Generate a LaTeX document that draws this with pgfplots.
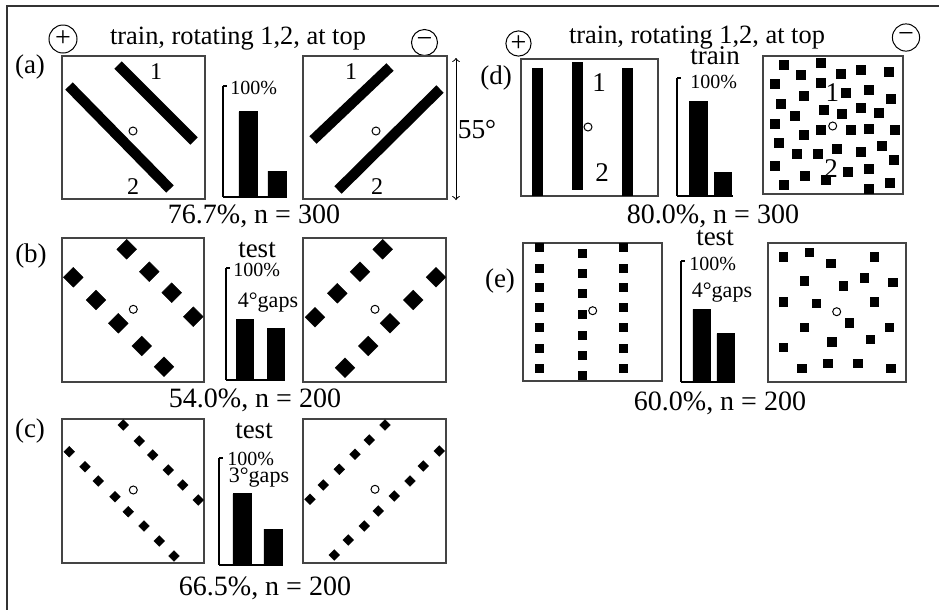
\documentclass[border=0pt]{standalone}
\usepackage{fontspec}
\setmainfont{Liberation Serif}
\usepackage{pgfplots}
\pgfplotsset{compat=1.18}
\newcommand{\fs}[1]{\fontsize{#1}{#1}\selectfont}
\definecolor{frame}{HTML}{333333}
\definecolor{boxc}{HTML}{444444}
\pgfplotsset{
  barax/.style={scale only axis, anchor=south west, ybar, ymin=0, ymax=100,
    axis x line=bottom, axis y line=left, axis line style={-, line width=0.6pt, black},
    xtick=\empty, ytick={100}, yticklabels={}, tick align=inside,
    major tick length=2pt, tick style={line width=0.6pt, black},
    enlargelimits=false, clip=false},
  dia/.style={only marks, mark=square*, mark size=#1, mark options={rotate=45, fill=black, draw=black, line width=0.2pt}},
  sq/.style={only marks, mark=square*, mark size=#1, mark options={fill=black, draw=black, line width=0.2pt}},
  fix/.style={only marks, mark=o, mark size=2pt, mark options={line width=0.5pt, black}},
  bar/.style={mark=none, line width=#1, black},
}
\begin{document}
\begin{tikzpicture}
\useasboundingbox (0,0) rectangle (469.5pt,-305pt);
\begin{axis}[at={(0pt,0pt)}, anchor=north west, scale only axis, width=469.5pt, height=305pt,
  xmin=0, xmax=939, ymin=0, ymax=610, y dir=reverse, hide axis, clip=false]
% frame
\draw[frame, line width=0.8pt] (axis cs:7,610) -- (axis cs:7,6) -- (axis cs:939,6);
% titles and signs
\node[anchor=base] at (axis cs:238,44) {\fs{13.2}train, rotating 1,2, at top};
\node[anchor=base] at (axis cs:697,43) {\fs{13.2}train, rotating 1,2, at top};
\draw[line width=0.5pt] (axis cs:63,39) circle[radius=7pt];
\node at (axis cs:63,39) {\fs{14}+};
\draw[line width=0.5pt] (axis cs:424.5,42.5) circle[radius=6.5pt];
\node at (axis cs:424.5,42.5) {\fs{14}−};
\draw[line width=0.5pt] (axis cs:518.5,43.5) circle[radius=6.3pt];
\node at (axis cs:518.5,43.5) {\fs{14}+};
\draw[line width=0.5pt] (axis cs:906,37.5) circle[radius=6.8pt];
\node at (axis cs:906,37.5) {\fs{14}−};
% panel letters
\node[inner sep=0] at (axis cs:30,67) {\fs{13.5}(a)};
\node[inner sep=0] at (axis cs:31,256) {\fs{13.5}(b)};
\node[inner sep=0] at (axis cs:30,431) {\fs{13.5}(c)};
\node[inner sep=0] at (axis cs:496,78) {\fs{13.5}(d)};
\node[inner sep=0] at (axis cs:500,281) {\fs{13.5}(e)};
% summary labels
\node[anchor=base] at (axis cs:254,223) {\fs{14}76.7\%, n = 300};
\node[anchor=base] at (axis cs:255,407) {\fs{14}54.0\%, n = 200};
\node[anchor=base] at (axis cs:265,595) {\fs{14}66.5\%, n = 200};
\node[anchor=base] at (axis cs:713,223) {\fs{14}80.0\%, n = 300};
\node[anchor=base] at (axis cs:720,410) {\fs{14}60.0\%, n = 200};
% bar chart captions
\node[anchor=base] at (axis cs:257,257) {\fs{13.5}test};
\node[anchor=base] at (axis cs:254,438) {\fs{13.5}test};
\node[anchor=base] at (axis cs:715,64) {\fs{13.5}train};
\node[anchor=base] at (axis cs:715,245) {\fs{13.5}test};
\node[anchor=west, inner sep=0] at (axis cs:230,88) {\fs{10}100\%};
\node[anchor=west, inner sep=0] at (axis cs:233,270) {\fs{10}100\%};
\node[anchor=west, inner sep=0] at (axis cs:227,459) {\fs{10}100\%};
\node[anchor=west, inner sep=0] at (axis cs:690,82) {\fs{10}100\%};
\node[anchor=west, inner sep=0] at (axis cs:689,264) {\fs{10}100\%};
\node[anchor=base] at (axis cs:268,307) {\fs{11}4°gaps};
\node[anchor=base] at (axis cs:259,482) {\fs{11}3°gaps};
\node[anchor=base] at (axis cs:722,297) {\fs{11}4°gaps};
% 55 degree arrow
\draw[<->, line width=0.5pt] (axis cs:456,58) -- (axis cs:456,200);
\node at (axis cs:477,130) {\fs{13.7}55°};
% stimulus boxes
\draw[boxc, line width=0.6pt] (axis cs:62,56) rectangle (axis cs:205,199);
\draw[boxc, line width=0.6pt] (axis cs:303,56) rectangle (axis cs:447,199);
\draw[boxc, line width=0.6pt] (axis cs:62,238) rectangle (axis cs:204,382);
\draw[boxc, line width=0.6pt] (axis cs:303,238) rectangle (axis cs:446,382);
\draw[boxc, line width=0.6pt] (axis cs:62,419) rectangle (axis cs:204,563);
\draw[boxc, line width=0.6pt] (axis cs:303,419) rectangle (axis cs:446,563);
\draw[boxc, line width=0.6pt] (axis cs:521,59) rectangle (axis cs:658,196);
\draw[boxc, line width=0.6pt] (axis cs:763,56) rectangle (axis cs:903,194);
\draw[boxc, line width=0.6pt] (axis cs:523,243) rectangle (axis cs:662,381);
\draw[boxc, line width=0.6pt] (axis cs:768,243) rectangle (axis cs:906,382);
% (a) lines
\addplot[bar=5.2pt] coordinates {(118,65) (194,141)};
\addplot[bar=5.2pt] coordinates {(69,86) (170,189)};
\addplot[bar=5.2pt] coordinates {(313,140) (390,67)};
\addplot[bar=5.2pt] coordinates {(338,190) (440,89)};
\addplot[fix] coordinates {(133,131) (376,131)};
\node at (axis cs:156,72) {\fs{12}1};
\node at (axis cs:133,187) {\fs{12}2};
\node at (axis cs:351,72) {\fs{12}1};
\node at (axis cs:377,187) {\fs{12}2};
% (b) diamonds
\addplot[dia=3.5pt] coordinates {(126.7,249.3) (149.3,271.7) (171.7,292.7) (193.3,316.7)
  (73.3,277.3) (96,300) (118.3,323.3) (141.7,346) (164,366.7)};
\addplot[dia=3.5pt] coordinates {(315,317.3) (337.3,293.3) (360,271.7) (382.7,249.3)
  (345,367.7) (368.3,346) (390,323.3) (413.3,300) (436,277.3)};
\addplot[fix] coordinates {(133.3,309.3) (375,309.3)};
% (c) diamonds
\addplot[dia=1.9pt] coordinates {(123.3,425) (139.3,441) (152.7,455) (168.3,470) (182.7,485) (198.3,500)
  (69.3,451.7) (85,466.7) (98.3,481) (115,496.7) (128.3,511.7) (144,526) (159.3,541) (174,556)};
\addplot[dia=1.9pt] coordinates {(310,499.3) (323.3,485) (339.3,469.3) (355,454.3) (369.3,440) (385,425)
  (334.3,555) (348.3,540) (364.3,526) (378.3,511) (394.3,496) (410,481) (423.3,466) (439.3,451)};
\addplot[fix] coordinates {(133.3,490) (375,489.3)};
% (d) vertical bars
\addplot[bar=5.5pt] coordinates {(537.5,68) (537.5,196)};
\addplot[bar=5.5pt] coordinates {(577.5,62) (577.5,190)};
\addplot[bar=5.5pt] coordinates {(627,68) (627,196)};
\addplot[fix] coordinates {(588,127)};
\node at (axis cs:599,83) {\fs{13.5}1};
\node at (axis cs:602,173) {\fs{13.5}2};
% (d) scattered squares
\addplot[sq=2.25pt] coordinates {(783.3,65) (820.7,62.3) (801,75) (841,73.3) (861,69.3) (889,71.7)
  (775,84) (820.7,82.3) (845.7,92.7) (869,89.3) (803.7,95.7) (891,98.3)
  (781,103.3) (823.3,109.3) (841.7,113.3) (861,107.3) (879,112.3) (794.3,115.7)
  (774.3,124) (821,130) (850.3,129.3) (869,129) (895,130) (803.3,135)
  (779,142.7) (836.7,149) (860.3,151.3) (881.7,146) (797,153.3) (817.7,153.3)
  (893.3,160) (775,165.3) (847.7,171.7) (869,169) (804.3,176) (825.7,180)
  (783.3,184.3) (869,188.3) (889.3,182.3)};
\addplot[fix] coordinates {(832.7,126)};
\node at (axis cs:832.3,92.7) {\fs{13.5}1};
\node at (axis cs:831,168.3) {\fs{13.5}2};
% (e) dotted columns
\addplot[sq=2.1pt] coordinates {(539,247) (539,268) (539,287) (539,307) (539,327) (539,348) (539,368)
  (582,253.3) (582,273.3) (582,293.3) (582,314.3) (582,335) (582,355) (582,375)
  (623,247) (623,268) (623,287) (623,307) (623,327) (623,348) (623,368)};
\addplot[fix] coordinates {(592.7,310.7)};
% (e) scattered squares
\addplot[sq=2.1pt] coordinates {(783.3,256.7) (809.3,252.3) (830.7,263.3) (874,256.7)
  (804,280.7) (843.3,285.7) (864.3,277.7) (892.7,282.3)
  (783.3,301.7) (816,303.3) (874,301.7) (849.3,322.7) (804.3,327.3) (889.3,327.3)
  (783.3,347.3) (831.7,341.7) (870,339)
  (801.7,368.3) (827.7,363.3) (857.7,363.3) (890.7,368.3)};
\addplot[fix] coordinates {(836.7,311.7)};
\end{axis}
% bar charts (percent of choices)
\begin{axis}[barax, at={(111.5pt,-98.5pt)}, width=32pt, height=55.5pt, xmin=0.138, xmax=2.345]
\addplot[fill=black, draw=black, bar width=9pt] coordinates {(1,76.7) (2,23.3)};
\end{axis}
\begin{axis}[barax, at={(113pt,-190pt)}, width=29.5pt, height=56pt, xmin=0.387, xmax=2.29]
\addplot[fill=black, draw=black, bar width=8.5pt] coordinates {(1,54.0) (2,46.0)};
\end{axis}
\begin{axis}[barax, at={(109.5pt,-282.5pt)}, width=32pt, height=53.5pt, xmin=0.258, xmax=2.323]
\addplot[fill=black, draw=black, bar width=9pt] coordinates {(1,66.5) (2,33.5)};
\end{axis}
\begin{axis}[barax, at={(338.5pt,-98pt)}, width=28pt, height=59pt, xmin=0.122, xmax=2.408]
\addplot[fill=black, draw=black, bar width=8.75pt] coordinates {(1,80.0) (2,20.0)};
\end{axis}
\begin{axis}[barax, at={(340.5pt,-191pt)}, width=27pt, height=60.5pt, xmin=0.146, xmax=2.396]
\addplot[fill=black, draw=black, bar width=8.5pt] coordinates {(1,60.0) (2,40.0)};
\end{axis}
\end{tikzpicture}
\end{document}
